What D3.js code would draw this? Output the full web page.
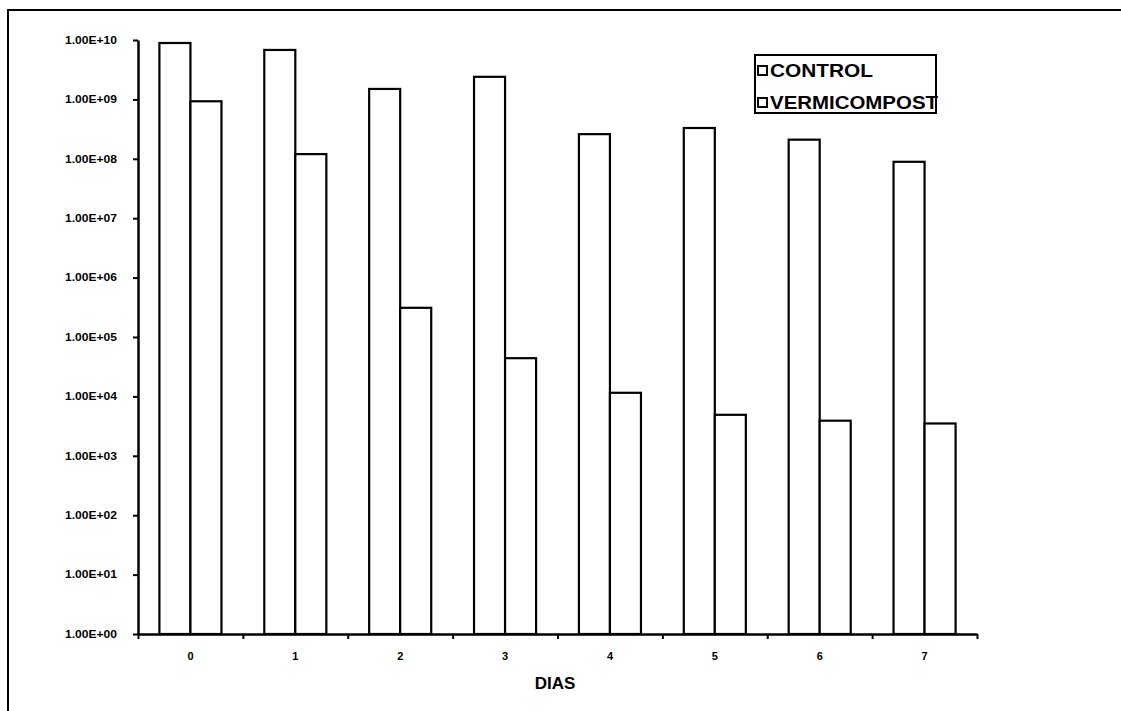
<!DOCTYPE html>
<html>
<head>
<meta charset="utf-8">
<script src="https://cdn.jsdelivr.net/npm/d3@7"></script>
<style>
  html, body { margin: 0; padding: 0; background: #fff; overflow: hidden; }
  svg { display: block; }
  text { font-family: "Liberation Sans", Arial, sans-serif; font-weight: bold; fill: #000; }
</style>
</head>
<body>
<svg id="chart" width="1121" height="711"></svg>
<script>
// Days of sampling
const dias = ["0", "1", "2", "3", "4", "5", "6", "7"];
// Series names (legend)
const series = ["CONTROL", "VERMICOMPOST"];
// Counts per day, log scale
const control = [8.9e9, 6.8e9, 1.5e9, 2.4e9, 2.6e8, 3.3e8, 2.1e8, 8.9e7];
const vermicompost = [9.3e8, 1.2e8, 3.1e5, 4.4e4, 1.15e4, 4.9e3, 3.9e3, 3.5e3];
// Y axis tick values and labels
const yTicks = [1e0, 1e1, 1e2, 1e3, 1e4, 1e5, 1e6, 1e7, 1e8, 1e9, 1e10];
const yTickLabels = ["1.00E+00", "1.00E+01", "1.00E+02", "1.00E+03", "1.00E+04",
  "1.00E+05", "1.00E+06", "1.00E+07", "1.00E+08", "1.00E+09", "1.00E+10"];
const xTitle = "DIAS";

const svg = d3.select("#chart");

// Outer frame: only the top and left edges fall inside the page
svg.append("path")
  .attr("d", "M8,711 L8,10 L1121,10")
  .attr("fill", "none").attr("stroke", "#000").attr("stroke-width", 2);

const plotLeft = 138, plotRight = 977, plotTop = 40, plotBottom = 634;

const y = d3.scaleLog().domain([1, 1e10]).range([plotBottom, plotTop]);
const x0 = d3.scaleBand().domain(dias).range([plotLeft, plotRight]).padding(0);
const x1 = d3.scaleBand().domain(series).range([0, x0.bandwidth()])
  .paddingInner(0).paddingOuter(0.69);

const rows = dias.map((d, i) => ({ dia: d, values: [
  { key: series[0], value: control[i] },
  { key: series[1], value: vermicompost[i] }
]}));

// Bars
const groups = svg.append("g").selectAll("g").data(rows).join("g")
  .attr("transform", d => `translate(${x0(d.dia)},0)`);
groups.selectAll("rect").data(d => d.values).join("rect")
  .attr("x", d => x1(d.key))
  .attr("y", d => y(d.value))
  .attr("width", x1.bandwidth())
  .attr("height", d => y(1) - y(d.value))
  .attr("fill", "#fff").attr("stroke", "#000").attr("stroke-width", 2.2);

// Y axis
const yAxis = d3.axisLeft(y).tickValues(yTicks)
  .tickFormat((d, i) => yTickLabels[i]).tickSize(5).tickSizeOuter(0).tickPadding(16);
const gy = svg.append("g").attr("transform", `translate(${plotLeft},0)`).call(yAxis);
gy.select(".domain").attr("stroke-width", 2.5);
gy.selectAll(".tick line").attr("stroke-width", 2);
gy.selectAll(".tick text")
  .style("font-size", "10.5px").style("font-family", "'Liberation Sans', Arial, sans-serif")
  .style("font-weight", "bold")
  .attr("textLength", 52).attr("lengthAdjust", "spacingAndGlyphs");

// X axis: boundary ticks between days
const xb = d3.scaleLinear().domain([0, dias.length]).range([plotLeft, plotRight]);
const gxb = svg.append("g").attr("transform", `translate(0,${plotBottom})`)
  .call(d3.axisBottom(xb).tickValues(d3.range(0, dias.length + 1)).tickFormat("").tickSize(5).tickSizeOuter(0));
gxb.select(".domain").attr("stroke-width", 2.5);
gxb.selectAll(".tick line").attr("stroke-width", 2);

// X axis: day labels
const gx = svg.append("g").attr("transform", `translate(0,${plotBottom})`)
  .call(d3.axisBottom(x0).tickSize(0).tickPadding(18));
gx.select(".domain").remove();
gx.selectAll(".tick text")
  .style("font-size", "11px").style("font-family", "'Liberation Sans', Arial, sans-serif")
  .style("font-weight", "bold");

// X title
svg.append("text")
  .attr("x", 555).attr("y", 689)
  .attr("text-anchor", "middle")
  .style("font-size", "17px")
  .text(xTitle);

// Legend
const legend = svg.append("g");
const legendRows = [74, 106];
series.forEach((s, i) => {
  legend.append("rect")
    .attr("x", 758).attr("y", legendRows[i] - 8)
    .attr("width", 9).attr("height", 9)
    .attr("fill", "#fff").attr("stroke", "#000").attr("stroke-width", 2);
  legend.append("text")
    .attr("x", 770).attr("y", legendRows[i] + 3)
    .style("font-size", "19px")
    .attr("textLength", i === 0 ? 103 : 168)
    .attr("lengthAdjust", "spacingAndGlyphs")
    .text(s);
});
legend.append("rect")
  .attr("x", 755).attr("y", 55)
  .attr("width", 181).attr("height", 58)
  .attr("fill", "none").attr("stroke", "#000").attr("stroke-width", 2);
</script>
</body>
</html>
